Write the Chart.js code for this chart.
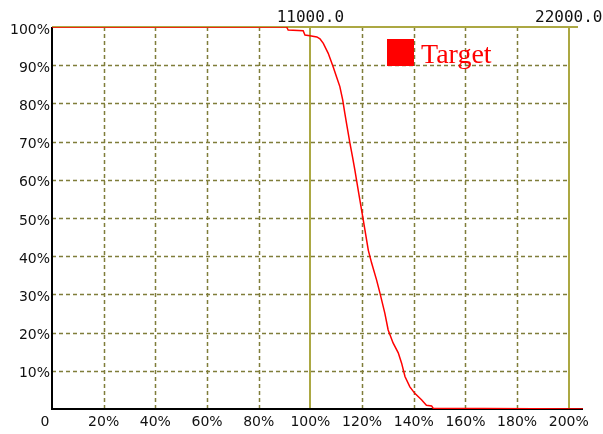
<!DOCTYPE html>
<html>
<head>
<meta charset="utf-8">
<style>
  html, body { margin: 0; padding: 0; background: #fff; }
  canvas { display: block; }
</style>
</head>
<body>
<canvas id="chart" width="603" height="434"></canvas>
<script src="https://cdn.jsdelivr.net/npm/chart.js"></script>
<script>
// percent of target on x, cumulative percent on y
const curveX = [0, 90.8, 91.4, 97.2, 97.9, 99.8, 102.5, 103.7, 105.0, 106.9, 108.8, 110.1, 111.4, 112.5, 113.3, 114.2, 115.3, 116.3, 117.2, 118.5, 119.8, 121.1, 122.4, 123.7, 125.6, 126.9, 128.8, 130.1, 132.0, 134.0, 135.3, 136.6, 138.5, 140.4, 143.0, 144.9, 146.9, 147.5, 205.5];
const curveY = [100, 100, 99.2, 99.0, 97.9, 97.7, 97.4, 96.9, 95.7, 93.1, 89.6, 87.0, 84.4, 80.9, 77.5, 73.9, 69.6, 66.0, 62.6, 57.3, 52.1, 46.9, 41.6, 38.2, 33.8, 30.4, 25.1, 20.7, 17.3, 14.7, 12.0, 8.5, 5.8, 4.1, 2.4, 1.0, 0.8, 0.2, 0];

const xTicks = [0, 20, 40, 60, 80, 100, 120, 140, 160, 180, 200];
const xTickLabels = ['0', '20%', '40%', '60%', '80%', '100%', '120%', '140%', '160%', '180%', '200%'];
const yTicks = [10, 20, 30, 40, 50, 60, 70, 80, 90, 100];
const yTickLabels = ['10%', '20%', '30%', '40%', '50%', '60%', '70%', '80%', '90%', '100%'];
const topTicks = [100, 200];
const topTickLabels = ['11000.0', '22000.0'];
const seriesName = 'Target';

const points = curveX.map((x, i) => ({ x: x, y: curveY[i] }));

const DASH_COLOR = '#7f7d3a';
const OLIVE = '#aca843';
const RED = '#ff0000';

const framePlugin = {
  id: 'frame',
  beforeDraw(chart) {
    const c = chart.ctx;
    c.save();
    c.fillStyle = '#fff';
    c.fillRect(0, 0, chart.width, chart.height);
    c.restore();
  },
  beforeDatasetsDraw(chart) {
    const c = chart.ctx, a = chart.chartArea;
    const xs = chart.scales.x, ys = chart.scales.y;
    c.save();
    // dashed grid
    c.strokeStyle = DASH_COLOR;
    c.lineWidth = 1.5;
    c.setLineDash([4, 3]);
    xTicks.forEach(v => {
      if (v === 0 || v === 100 || v === 200) return;
      const px = Math.round(xs.getPixelForValue(v)) + 0.5;
      c.beginPath(); c.moveTo(px, a.top); c.lineTo(px, a.bottom); c.stroke();
    });
    yTicks.forEach(v => {
      if (v === 100) return;
      const py = Math.round(ys.getPixelForValue(v)) + 0.5;
      c.beginPath(); c.moveTo(a.left, py); c.lineTo(xs.getPixelForValue(200), py); c.stroke();
    });
    c.setLineDash([]);
    // olive solid lines
    c.strokeStyle = OLIVE;
    c.lineWidth = 2;
    topTicks.forEach(v => {
      const px = Math.round(xs.getPixelForValue(v));
      c.beginPath(); c.moveTo(px, a.top); c.lineTo(px, a.bottom); c.stroke();
    });
    c.beginPath(); c.moveTo(a.left, a.top); c.lineTo(a.right - 5, a.top); c.stroke();
    // black axes
    c.strokeStyle = '#000';
    c.beginPath();
    c.moveTo(a.left, a.top); c.lineTo(a.left, a.bottom); c.lineTo(a.right, a.bottom);
    c.stroke();
    c.restore();
  },
  afterDatasetsDraw(chart) {
    const c = chart.ctx;
    const xs = chart.scales.x, ys = chart.scales.y;
    c.save();
    c.fillStyle = '#111';
    c.font = '14px "DejaVu Sans"';
    // bottom labels
    c.textAlign = 'center';
    c.textBaseline = 'middle';
    xTicks.forEach((v, i) => {
      const px = xs.getPixelForValue(v) + (v === 0 ? -7 : 0);
      c.fillText(xTickLabels[i], px, 422);
    });
    // left labels
    c.textAlign = 'right';
    yTicks.forEach((v, i) => {
      c.fillText(yTickLabels[i], 50, ys.getPixelForValue(v) + 3);
    });
    // top labels
    c.font = '16px "DejaVu Sans Mono"';
    c.textAlign = 'center';
    topTicks.forEach((v, i) => {
      c.fillText(topTickLabels[i], xs.getPixelForValue(v), 18);
    });
    // legend
    c.fillStyle = RED;
    c.fillRect(387, 39, 27, 27);
    c.font = '28px "Liberation Serif"';
    c.textAlign = 'left';
    c.textBaseline = 'alphabetic';
    c.fillText(seriesName, 421, 63);
    c.restore();
  }
};

new Chart(document.getElementById('chart'), {
  type: 'line',
  data: {
    datasets: [{
      label: seriesName,
      data: points,
      borderColor: RED,
      borderWidth: 1.5,
      pointRadius: 0,
      tension: 0,
      fill: false
    }]
  },
  options: {
    responsive: false,
    animation: false,
    layout: { padding: { left: 52, top: 27, right: 20, bottom: 25 } },
    scales: {
      x: { type: 'linear', min: 0, max: 205.5, display: false },
      y: { type: 'linear', min: 0, max: 100, display: false }
    },
    plugins: { legend: { display: false }, tooltip: { enabled: false } }
  },
  plugins: [framePlugin]
});
</script>
</body>
</html>
